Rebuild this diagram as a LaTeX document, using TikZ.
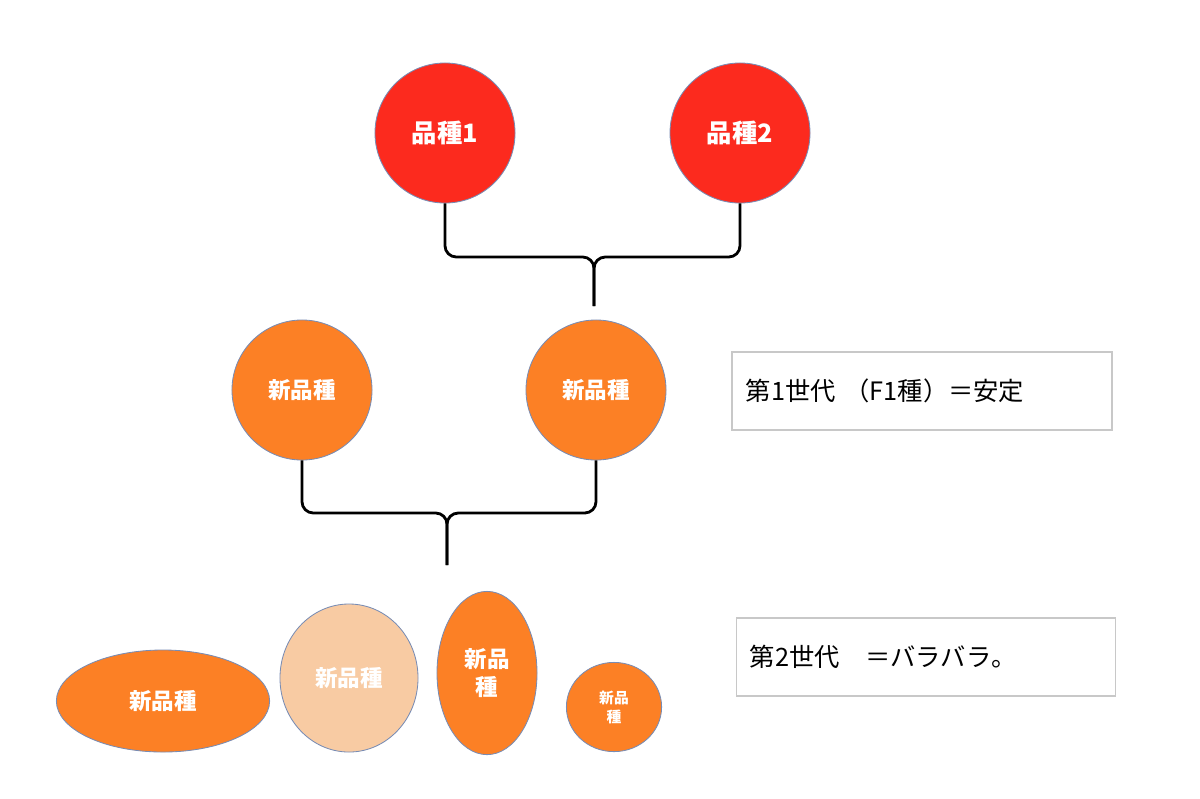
\documentclass[tikz,border=0pt]{standalone}
\usepackage{fontspec}
\newfontfamily\jpfont{Noto Sans CJK JP}
\usetikzlibrary{shapes.geometric}
\definecolor{hinshured}{RGB}{252,42,30}
\definecolor{shinorange}{RGB}{252,128,37}
\definecolor{shinpeach}{RGB}{248,203,163}
\definecolor{rimblue}{RGB}{120,140,180}
\definecolor{boxgray}{RGB}{200,200,200}
\begin{document}
\begin{tikzpicture}[x=0.025cm,y=-0.025cm,
	parent/.style={circle,fill=hinshured,draw=rimblue,line width=0.6pt,minimum size=3.5cm,inner sep=0pt,text=white,font=\jpfont\bfseries\fontsize{18}{20}\selectfont},
	child/.style={ellipse,fill=shinorange,draw=rimblue,line width=0.6pt,inner sep=0pt,text=white,align=center,font=\jpfont\bfseries\fontsize{16}{20}\selectfont},
	bracket/.style={line width=2pt,rounded corners=8pt},
	note/.style={draw=boxgray,line width=1pt,minimum height=1.95cm,inner xsep=0.33cm,text width=8.8cm,align=left,font=\jpfont\fontsize{18}{20}\selectfont}]
	\useasboundingbox (0,0) rectangle (1200,798);
	% first parents
	\node[parent] (v1) at (445,133) {品種1};
	\node[parent] (v2) at (740,133) {品種2};
	\coordinate (j1) at (594,257);
	\coordinate (t1) at (594,306);
	\draw[bracket] (v1.south) |- (j1) -- (t1);
	\draw[bracket] (v2.south) |- (j1) -- (t1);
	% first generation
	\node[child,minimum width=3.5cm,minimum height=3.5cm] (n1) at (302,390) {新品種};
	\node[child,minimum width=3.5cm,minimum height=3.5cm] (n2) at (596,390) {新品種};
	\coordinate (j2) at (447,513);
	\coordinate (t2) at (447,565);
	\draw[bracket] (n1.south) |- (j2) -- (t2);
	\draw[bracket] (n2.south) |- (j2) -- (t2);
	\node[note,minimum width=9.5cm] (f1) at (922,391) {第1世代 （F1種）＝安定};
	% second generation
	\node[child,minimum width=5.33cm,minimum height=2.55cm] (e1) at (163,701) {新品種};
	\node[child,fill=shinpeach,minimum width=3.45cm,minimum height=3.7cm] (e2) at (349,678) {新品種};
	\node[child,minimum width=2.5cm,minimum height=4.08cm] (e3) at (487,673) {新品\\種};
	\node[child,minimum width=2.38cm,minimum height=2.23cm,font=\jpfont\bfseries\fontsize{10.5}{13.5}\selectfont] (e4) at (614,707) {新品\\種};
	\node[note,minimum width=9.48cm] (f2) at (926,657) {第2世代　＝バラバラ。};
\end{tikzpicture}
\end{document}
